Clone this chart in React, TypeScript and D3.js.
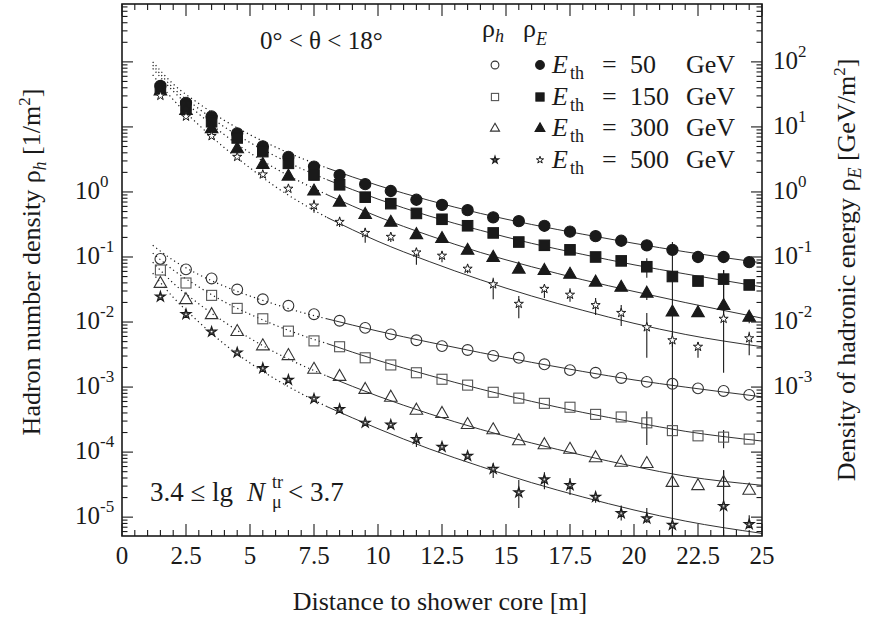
import React from 'react';
import * as d3 from 'd3';

const W = 871, H = 621;
const PL = 122, PR = 762, PT = 4, PB = 536;
const FONT = '"Liberation Serif", "DejaVu Serif", serif';
const INK = '#1a1a1a';

// distances to shower core [m]
const distances = [1.5, 2.5, 3.5, 4.5, 5.5, 6.5, 7.5, 8.5, 9.5, 10.5, 11.5, 12.5, 13.5, 14.5, 15.5, 16.5, 17.5, 18.5, 19.5, 20.5, 21.5, 22.5, 23.5, 24.5];

// lg of energy density rho_E [GeV/m^2]
const lgRhoE50 = [1.63, 1.37, 1.16, 0.90, 0.70, 0.54, 0.39, 0.26, 0.12, 0.015, -0.12, -0.20, -0.28, -0.39, -0.45, -0.52, -0.61, -0.68, -0.75, -0.82, -0.89, -1.00, -1.00, -1.08];
const lgRhoE150 = [1.58, 1.32, 1.08, 0.83, 0.62, 0.44, 0.26, 0.11, -0.08, -0.18, -0.33, -0.42, -0.52, -0.63, -0.77, -0.82, -0.89, -1.00, -1.06, -1.15, -1.30, -1.37, -1.34, -1.43];
const lgRhoE300 = [1.56, 1.26, 0.98, 0.67, 0.43, 0.25, 0.02, -0.15, -0.34, -0.46, -0.65, -0.71, -0.89, -1.00, -1.18, -1.20, -1.26, -1.38, -1.46, -1.55, -1.84, -1.85, -1.74, -1.92];
const lgRhoE500 = [1.48, 1.16, 0.86, 0.54, 0.27, 0.05, -0.21, -0.46, -0.63, -0.69, -0.93, -0.98, -1.18, -1.42, -1.72, -1.49, -1.58, -1.74, -1.86, -2.08, -2.28, -2.38, -1.95, -2.25];

// lg of hadron number density rho_h [1/m^2]
const lgRhoH50 = [-1.03, -1.19, -1.33, -1.50, -1.65, -1.75, -1.88, -1.98, -2.09, -2.19, -2.28, -2.37, -2.43, -2.52, -2.55, -2.65, -2.74, -2.78, -2.86, -2.92, -2.95, -3.02, -3.06, -3.12];
const lgRhoH150 = [-1.20, -1.40, -1.59, -1.79, -1.95, -2.14, -2.29, -2.38, -2.55, -2.66, -2.78, -2.88, -2.97, -3.08, -3.17, -3.25, -3.31, -3.42, -3.46, -3.55, -3.67, -3.75, -3.77, -3.80];
const lgRhoH300 = [-1.40, -1.65, -1.88, -2.14, -2.36, -2.51, -2.72, -2.83, -3.03, -3.15, -3.35, -3.40, -3.57, -3.65, -3.82, -3.88, -3.95, -4.08, -4.15, -4.17, -4.46, -4.51, -4.46, -4.58];
const lgRhoH500 = [-1.61, -1.88, -2.15, -2.47, -2.71, -2.89, -3.18, -3.34, -3.55, -3.58, -3.80, -3.92, -4.06, -4.26, -4.62, -4.42, -4.51, -4.69, -4.94, -5.02, -5.12, null, -4.83, -5.11];

// error bars: [distance, lg upper, lg lower]
const errRhoE150 = [[20.5, -1.02, -1.32], [23.5, -1.20, -1.48]];
const errRhoE300 = [[20.5, -1.46, -1.66], [21.5, -0.77, -6], [23.5, -1.48, -1.94], [24.5, -1.85, -2.02]];
const errRhoE500 = [[7.5, -0.12, -0.32], [8.5, -0.38, -0.54], [9.5, -0.55, -0.78], [10.5, -0.63, -0.77], [11.5, -0.86, -1.12], [12.5, -0.92, -1.08], [13.5, -1.12, -1.25], [14.5, -1.32, -1.65], [15.5, -1.60, -1.94], [16.5, -1.43, -1.63], [17.5, -1.48, -1.69], [18.5, -1.63, -1.89], [19.5, -1.74, -2.06], [20.5, -1.86, -2.55], [21.5, -2.17, -2.38], [22.5, -2.31, -2.55], [23.5, -1.20, -2.78], [24.5, -2.15, -2.51]];
const errRhoH150 = [[20.5, -3.37, -3.89], [23.5, -3.66, -3.94]];
const errRhoH300 = [[23.5, -4.28, -4.54]];
const errRhoH500 = [[11.5, -3.71, -3.92], [14.5, -4.17, -4.40], [15.5, -4.43, -4.86], [16.5, -4.31, -4.57], [17.5, -4.40, -4.66], [18.5, -4.62, -4.78], [19.5, -4.82, -5.05], [20.5, -4.86, -5.09], [23.5, -4.28, -6], [24.5, -4.97, -5.17]];

// fitted / extrapolated curves (lg values)
const fitDistances = [1.2, 2, 3, 4, 5, 6, 7, 8, 10, 12, 14, 16, 18, 20, 22, 25];
const fitRhoE50 = [2.0, 1.66, 1.36, 1.10, 0.88, 0.69, 0.52, 0.37, 0.10, -0.13, -0.33, -0.50, -0.65, -0.79, -0.92, -1.09];
const fitRhoE150 = [1.95, 1.60, 1.28, 1.00, 0.76, 0.55, 0.36, 0.19, -0.11, -0.37, -0.59, -0.79, -0.96, -1.12, -1.26, -1.46];
const fitRhoE300 = [1.90, 1.55, 1.20, 0.88, 0.60, 0.36, 0.15, -0.04, -0.38, -0.67, -0.93, -1.15, -1.35, -1.53, -1.70, -1.94];
const fitRhoE500 = [1.80, 1.42, 1.03, 0.68, 0.37, 0.08, -0.17, -0.39, -0.76, -1.07, -1.35, -1.60, -1.82, -2.02, -2.19, -2.38];
const fitRhoH50 = [-0.82, -1.05, -1.27, -1.45, -1.60, -1.73, -1.85, -1.95, -2.14, -2.31, -2.47, -2.62, -2.76, -2.89, -3.00, -3.15];
const fitRhoH150 = [-0.94, -1.20, -1.46, -1.69, -1.88, -2.05, -2.20, -2.33, -2.59, -2.82, -3.03, -3.22, -3.39, -3.54, -3.68, -3.83];
const fitRhoH300 = [-1.08, -1.40, -1.72, -2.00, -2.25, -2.47, -2.66, -2.83, -3.14, -3.41, -3.65, -3.86, -4.05, -4.22, -4.37, -4.51];
const fitRhoH500 = [-1.25, -1.62, -2.00, -2.34, -2.63, -2.88, -3.10, -3.30, -3.64, -3.95, -4.22, -4.47, -4.69, -4.89, -5.06, -5.25];

const thresholds = ['50', '150', '300', '500'];
const xTickLabels = ['0', '2.5', '5', '7.5', '10', '12.5', '15', '17.5', '20', '22.5', '25'];
const leftExponents = [0, -1, -2, -3, -4, -5];
const rightExponents = [2, 1, 0, -1, -2, -3];
const FIT_SPLIT = 8;

type Shape = 'circle' | 'square' | 'triangle' | 'star';

const x = d3.scaleLinear().domain([0, 25]).range([PL, PR]);
const y = d3.scaleLog().domain([Math.pow(10, -5.29), Math.pow(10, 2.89)]).range([PB, PT]);
const yl = (lg: number) => y(Math.pow(10, lg));

const series = [
  { vals: lgRhoE50, fit: fitRhoE50, err: [] as number[][], shape: 'circle' as Shape, filled: true },
  { vals: lgRhoE150, fit: fitRhoE150, err: errRhoE150, shape: 'square' as Shape, filled: true },
  { vals: lgRhoE300, fit: fitRhoE300, err: errRhoE300, shape: 'triangle' as Shape, filled: true },
  { vals: lgRhoE500, fit: fitRhoE500, err: errRhoE500, shape: 'star' as Shape, filled: true },
  { vals: lgRhoH50, fit: fitRhoH50, err: [] as number[][], shape: 'circle' as Shape, filled: false },
  { vals: lgRhoH150, fit: fitRhoH150, err: errRhoH150, shape: 'square' as Shape, filled: false },
  { vals: lgRhoH300, fit: fitRhoH300, err: errRhoH300, shape: 'triangle' as Shape, filled: false },
  { vals: lgRhoH500, fit: fitRhoH500, err: errRhoH500, shape: 'star' as Shape, filled: false },
];

const starPath = (size: number) => d3.symbol().type(d3.symbolStar).size(size)() as string;

function Marker({ shape, filled, cx, cy, scale = 1 }: { shape: Shape; filled: boolean; cx: number; cy: number; scale?: number }) {
  const fill = filled ? INK : 'none';
  const stroke = filled ? INK : '#333';
  const sw = 1.1;
  if (shape === 'circle') {
    return <circle cx={cx} cy={cy} r={(filled ? 5.6 : 5.4) * scale} fill={fill} stroke={stroke} strokeWidth={sw} />;
  }
  if (shape === 'square') {
    const s = (filled ? 10.5 : 10) * scale;
    return <rect x={cx - s / 2} y={cy - s / 2} width={s} height={s} fill={fill} stroke={filled ? INK : '#555'} strokeWidth={sw} />;
  }
  if (shape === 'triangle') {
    const w = 6.3 * scale, t = 6.6 * scale, b = 4.4 * scale;
    return <path d={`M${cx},${cy - t}L${cx + w},${cy + b}L${cx - w},${cy + b}Z`} fill={fill} stroke={stroke} strokeWidth={sw} strokeLinejoin="miter" />;
  }
  if (filled) {
    // rho_E 500 GeV: small open star
    return <path d={starPath(26 * scale * scale)} transform={`translate(${cx},${cy})`} fill="white" stroke={INK} strokeWidth={1} />;
  }
  return (
    <g transform={`translate(${cx},${cy})`}>
      <path d={starPath(30 * scale * scale)} fill="white" stroke={INK} strokeWidth={1.2} />
      <path d={starPath(7 * scale * scale)} fill="none" stroke={INK} strokeWidth={0.8} />
    </g>
  );
}

export default function App() {
  const line = d3.line<[number, number]>().x(d => x(d[0])).y(d => yl(d[1])).curve(d3.curveMonotoneX);

  const xMajor = d3.range(0, 25.001, 2.5);
  const xMinor = d3.range(0, 25.001, 0.5).filter(v => Math.abs(v / 2.5 - Math.round(v / 2.5)) > 1e-6);
  const yMajor: number[] = [];
  const yMinor: number[] = [];
  const [dLo, dHi] = y.domain();
  for (let e = -6; e <= 3; e++) {
    const v = Math.pow(10, e);
    if (v >= dLo && v <= dHi) yMajor.push(v);
    for (let k = 2; k <= 9; k++) {
      const m = k * v;
      if (m >= dLo && m <= dHi) yMinor.push(m);
    }
  }

  const legendRows = [65, 97, 128, 160];
  const legendShapes: Shape[] = ['circle', 'square', 'triangle', 'star'];

  return (
    <svg width={W} height={H} viewBox={`0 0 ${W} ${H}`} fontFamily={FONT} style={{ display: 'block', position: 'absolute', left: 0, top: 0, background: '#fff', fontFamily: FONT }}>
      <defs>
        <clipPath id="plotClip">
          <rect x={PL} y={PT} width={PR - PL} height={PB - PT} />
        </clipPath>
      </defs>
      <rect x={0} y={0} width={W} height={H} fill="#fff" />

      {/* fit curves */}
      <g clipPath="url(#plotClip)" fill="none" stroke={INK}>
        {series.map((s, i) => {
          const pts: [number, number][] = fitDistances.map((r, j) => [r, s.fit[j]]);
          const dotted = pts.filter(p => p[0] <= FIT_SPLIT);
          const solid = pts.filter(p => p[0] >= FIT_SPLIT);
          return (
            <g key={i}>
              <path d={line(dotted) as string} strokeWidth={1.2} strokeDasharray="1.2 3.2" />
              <path d={line(solid) as string} strokeWidth={0.9} />
            </g>
          );
        })}
      </g>

      {/* error bars */}
      <g clipPath="url(#plotClip)" stroke={INK} strokeWidth={1.1}>
        {series.map((s, i) =>
          s.err.map((e, j) => (
            <line key={`${i}-${j}`} x1={x(e[0])} x2={x(e[0])} y1={yl(e[1])} y2={Math.min(PB, yl(e[2]))} />
          ))
        )}
      </g>

      {/* markers */}
      <g clipPath="url(#plotClip)">
        {series.map((s, i) =>
          s.vals.map((v, j) =>
            v === null ? null : (
              <Marker key={`${i}-${j}`} shape={s.shape} filled={s.filled} cx={x(distances[j])} cy={yl(v as number)} />
            )
          )
        )}
      </g>

      {/* ticks */}
      <g stroke={INK} strokeWidth={1.1}>
        {xMajor.map(v => (
          <g key={`xM${v}`}>
            <line x1={x(v)} x2={x(v)} y1={PB} y2={PB - 12} />
            <line x1={x(v)} x2={x(v)} y1={PT} y2={PT + 12} />
          </g>
        ))}
        {xMinor.map(v => (
          <g key={`xm${v}`}>
            <line x1={x(v)} x2={x(v)} y1={PB} y2={PB - 6} />
            <line x1={x(v)} x2={x(v)} y1={PT} y2={PT + 6} />
          </g>
        ))}
        {yMajor.map(v => (
          <g key={`yM${v}`}>
            <line x1={PL} x2={PL + 11} y1={y(v)} y2={y(v)} />
            <line x1={PR} x2={PR - 11} y1={y(v)} y2={y(v)} />
          </g>
        ))}
        {yMinor.map(v => (
          <g key={`ym${v}`}>
            <line x1={PL} x2={PL + 5.5} y1={y(v)} y2={y(v)} />
            <line x1={PR} x2={PR - 5.5} y1={y(v)} y2={y(v)} />
          </g>
        ))}
      </g>

      {/* frame */}
      <rect x={PL} y={PT} width={PR - PL} height={PB - PT} fill="none" stroke={INK} strokeWidth={1.6} />

      {/* x tick labels */}
      <g fontSize={25} fill={INK} textAnchor="middle">
        {xMajor.map((v, i) => (
          <text key={`xl${v}`} x={x(v)} y={564}>{xTickLabels[i]}</text>
        ))}
      </g>

      {/* y tick labels */}
      <g fontSize={25} fill={INK}>
        {leftExponents.map(e => (
          <text key={`ll${e}`} x={75} y={yl(e) + 7}>
            10<tspan fontSize={17} dy={-12}>{e}</tspan>
          </text>
        ))}
        {rightExponents.map(e => (
          <text key={`rl${e}`} x={773} y={yl(e) + 7}>
            10<tspan fontSize={17} dy={-12}>{e}</tspan>
          </text>
        ))}
      </g>

      {/* axis titles */}
      <text x={440} y={610} fontSize={26} fill={INK} textAnchor="middle">Distance to shower core [m]</text>
      <text transform="translate(40,262) rotate(-90)" fontSize={26} fill={INK} textAnchor="middle">
        Hadron number density  ρ<tspan fontStyle="italic" fontSize={18} dy={6}>h</tspan>
        <tspan dy={-6}> [1/m</tspan><tspan fontSize={17} dy={-10}>2</tspan><tspan dy={10}>]</tspan>
      </text>
      <text transform="translate(855,270) rotate(-90)" fontSize={26} fill={INK} textAnchor="middle">
        Density of hadronic energy ρ<tspan fontStyle="italic" fontSize={18} dy={6}>E</tspan>
        <tspan dy={-6}> [GeV/m</tspan><tspan fontSize={17} dy={-10}>2</tspan><tspan dy={10}>]</tspan>
      </text>

      {/* annotations */}
      <text x={260} y={49} fontSize={25} fill={INK}>0° &lt; θ &lt; 18°</text>
      <g fill={INK}>
        <text x={150} y={501} fontSize={27}>3.4 ≤ lg</text>
        <text x={247} y={501} fontSize={27} fontStyle="italic">N</text>
        <text x={272} y={488} fontSize={18}>tr</text>
        <text x={272} y={508} fontSize={18}>μ</text>
        <text x={288} y={501} fontSize={27}>&lt; 3.7</text>
      </g>

      {/* legend */}
      <g fill={INK}>
        <text x={482} y={37} fontSize={26}>ρ<tspan fontStyle="italic" fontSize={18} dy={5}>h</tspan></text>
        <text x={523} y={37} fontSize={26}>ρ<tspan fontStyle="italic" fontSize={18} dy={8}>E</tspan></text>
        {legendRows.map((ry, i) => (
          <g key={`lg${i}`}>
            <Marker shape={legendShapes[i]} filled={false} cx={495} cy={ry} scale={0.72} />
            <Marker shape={legendShapes[i]} filled={true} cx={540} cy={ry} scale={0.78} />
            <text x={552} y={ry + 8} fontSize={26} fontStyle="italic">E</text>
            <text x={570} y={ry + 14} fontSize={18}>th</text>
            <text x={602} y={ry + 8} fontSize={26}>=</text>
            <text x={630} y={ry + 8} fontSize={26}>{thresholds[i]}</text>
            <text x={686} y={ry + 8} fontSize={26}>GeV</text>
          </g>
        ))}
      </g>
    </svg>
  );
}
